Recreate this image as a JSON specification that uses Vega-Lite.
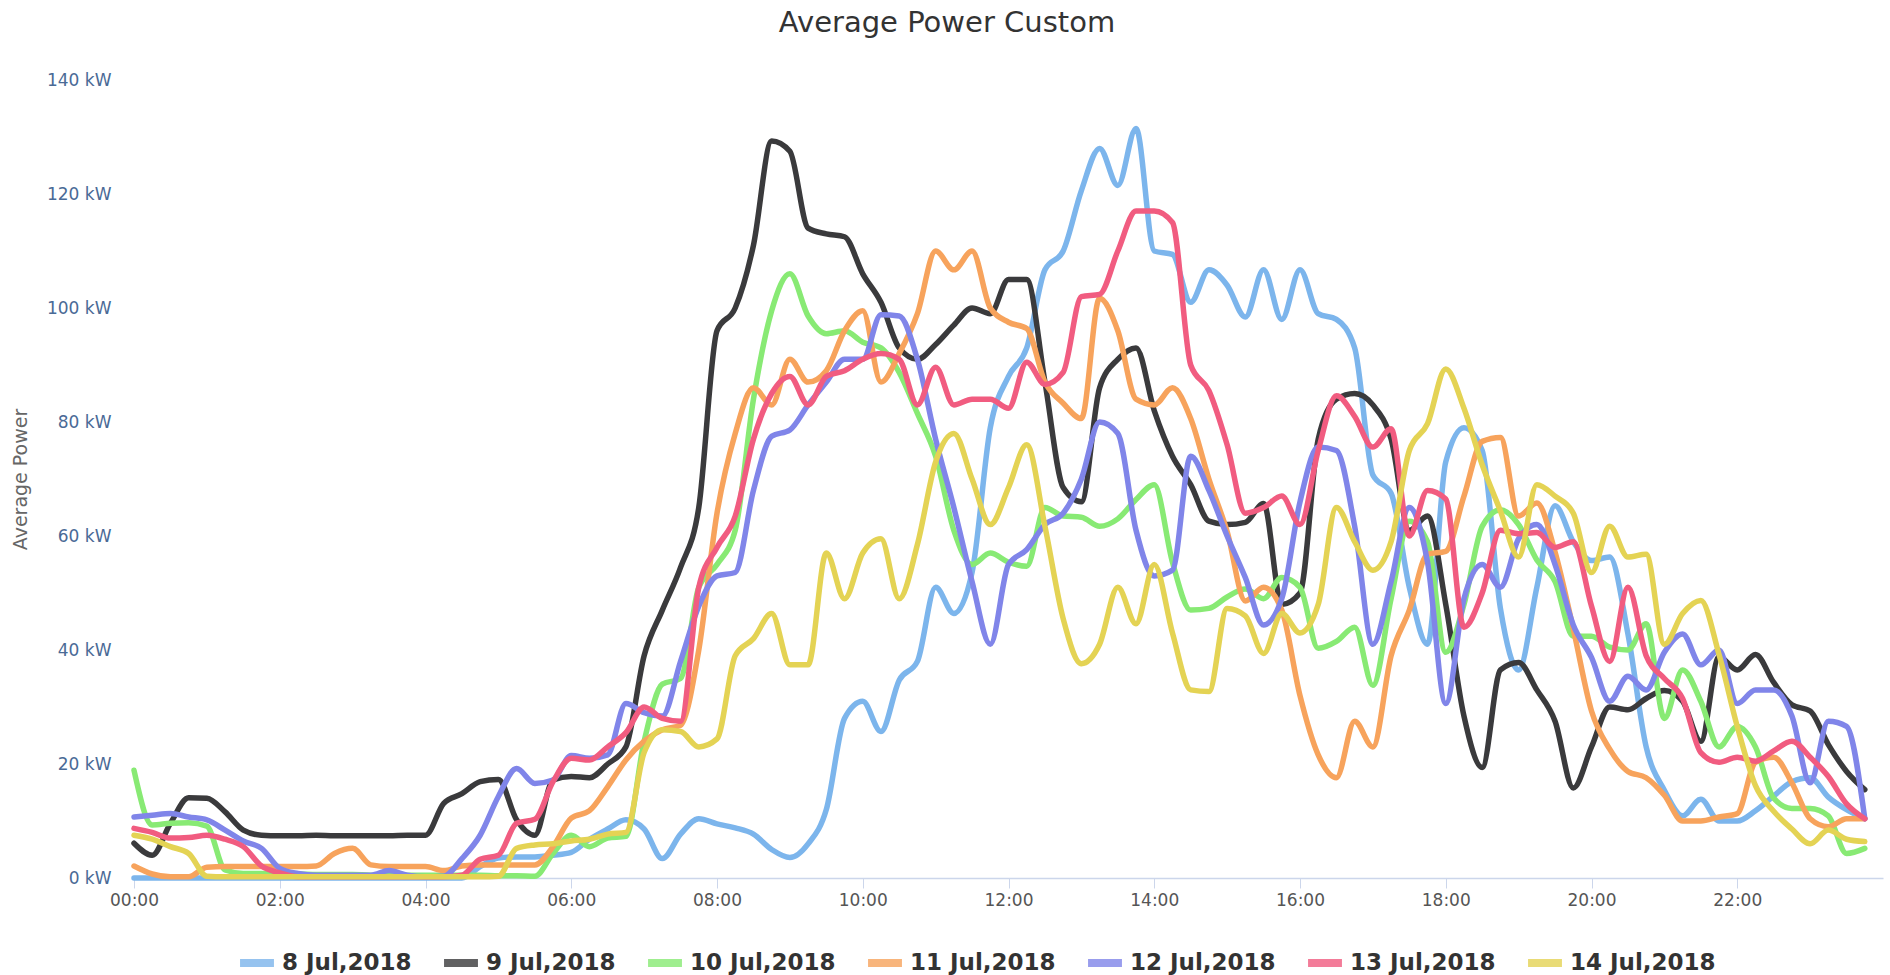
{
"$schema": "https://vega.github.io/schema/vega-lite/v6.json",
"autosize": {"type": "none"},
"width": 1749,
"height": 798,
"padding": {"left": 134, "top": 80, "right": 7, "bottom": 97},
"background": "#ffffff",
"title": {"text": "Average Power Custom", "font": "DejaVu Sans", "fontSize": 29, "fontWeight": "normal", "color": "#333333", "anchor": "middle", "frame": "bounds", "offset": 33},
"data": {
"format": {"parse": {"t": "utc:'%H:%M'"}},
"values": [
{"t":"00:00","8 Jul,2018":0,"9 Jul,2018":6.1,"10 Jul,2018":18.9,"11 Jul,2018":2.1,"12 Jul,2018":10.7,"13 Jul,2018":8.7,"14 Jul,2018":7.5},
{"t":"00:15","8 Jul,2018":0,"9 Jul,2018":4,"10 Jul,2018":9.3,"11 Jul,2018":0.7,"12 Jul,2018":11,"13 Jul,2018":8,"14 Jul,2018":6.8},
{"t":"00:30","8 Jul,2018":0,"9 Jul,2018":9.6,"10 Jul,2018":9.6,"11 Jul,2018":0.2,"12 Jul,2018":11.3,"13 Jul,2018":7,"14 Jul,2018":5.5},
{"t":"00:45","8 Jul,2018":0,"9 Jul,2018":14.1,"10 Jul,2018":9.7,"11 Jul,2018":0.2,"12 Jul,2018":10.7,"13 Jul,2018":7.1,"14 Jul,2018":4.3},
{"t":"01:00","8 Jul,2018":0,"9 Jul,2018":14,"10 Jul,2018":9.1,"11 Jul,2018":1.9,"12 Jul,2018":10.2,"13 Jul,2018":7.5,"14 Jul,2018":0.3},
{"t":"01:15","8 Jul,2018":0,"9 Jul,2018":11.6,"10 Jul,2018":1.4,"11 Jul,2018":2,"12 Jul,2018":8.4,"13 Jul,2018":6.8,"14 Jul,2018":0.2},
{"t":"01:30","8 Jul,2018":0,"9 Jul,2018":8.4,"10 Jul,2018":0.8,"11 Jul,2018":2,"12 Jul,2018":6.5,"13 Jul,2018":5.5,"14 Jul,2018":0.2},
{"t":"01:45","8 Jul,2018":0,"9 Jul,2018":7.5,"10 Jul,2018":0.8,"11 Jul,2018":2,"12 Jul,2018":5.2,"13 Jul,2018":2.1,"14 Jul,2018":0.2},
{"t":"02:00","8 Jul,2018":0,"9 Jul,2018":7.4,"10 Jul,2018":0.7,"11 Jul,2018":2,"12 Jul,2018":1.7,"13 Jul,2018":0.9,"14 Jul,2018":0.2},
{"t":"02:15","8 Jul,2018":0,"9 Jul,2018":7.4,"10 Jul,2018":0.7,"11 Jul,2018":2,"12 Jul,2018":0.8,"13 Jul,2018":0.2,"14 Jul,2018":0.2},
{"t":"02:30","8 Jul,2018":0,"9 Jul,2018":7.5,"10 Jul,2018":0.6,"11 Jul,2018":2.1,"12 Jul,2018":0.5,"13 Jul,2018":0.2,"14 Jul,2018":0.2},
{"t":"02:45","8 Jul,2018":0,"9 Jul,2018":7.4,"10 Jul,2018":0.6,"11 Jul,2018":4.3,"12 Jul,2018":0.5,"13 Jul,2018":0.2,"14 Jul,2018":0.2},
{"t":"03:00","8 Jul,2018":0,"9 Jul,2018":7.4,"10 Jul,2018":0.6,"11 Jul,2018":5.2,"12 Jul,2018":0.5,"13 Jul,2018":0.2,"14 Jul,2018":0.2},
{"t":"03:15","8 Jul,2018":0,"9 Jul,2018":7.4,"10 Jul,2018":0.5,"11 Jul,2018":2.3,"12 Jul,2018":0.5,"13 Jul,2018":0.2,"14 Jul,2018":0.2},
{"t":"03:30","8 Jul,2018":0,"9 Jul,2018":7.4,"10 Jul,2018":0.5,"11 Jul,2018":2,"12 Jul,2018":1.3,"13 Jul,2018":0.2,"14 Jul,2018":0.2},
{"t":"03:45","8 Jul,2018":0,"9 Jul,2018":7.5,"10 Jul,2018":0.5,"11 Jul,2018":2,"12 Jul,2018":0.5,"13 Jul,2018":0.2,"14 Jul,2018":0.2},
{"t":"04:00","8 Jul,2018":0,"9 Jul,2018":7.5,"10 Jul,2018":0.5,"11 Jul,2018":2,"12 Jul,2018":0.2,"13 Jul,2018":0.2,"14 Jul,2018":0.2},
{"t":"04:15","8 Jul,2018":0,"9 Jul,2018":13.1,"10 Jul,2018":0.5,"11 Jul,2018":1.3,"12 Jul,2018":0.3,"13 Jul,2018":0.2,"14 Jul,2018":0.2},
{"t":"04:30","8 Jul,2018":0,"9 Jul,2018":14.8,"10 Jul,2018":0.5,"11 Jul,2018":2.1,"12 Jul,2018":3.4,"13 Jul,2018":0.5,"14 Jul,2018":0.2},
{"t":"04:45","8 Jul,2018":2,"9 Jul,2018":16.9,"10 Jul,2018":0.5,"11 Jul,2018":2.3,"12 Jul,2018":7.5,"13 Jul,2018":3.3,"14 Jul,2018":0.2},
{"t":"05:00","8 Jul,2018":3.5,"9 Jul,2018":17.3,"10 Jul,2018":0.4,"11 Jul,2018":2.3,"12 Jul,2018":14.3,"13 Jul,2018":4,"14 Jul,2018":0.3},
{"t":"05:15","8 Jul,2018":3.7,"9 Jul,2018":10.2,"10 Jul,2018":0.4,"11 Jul,2018":2.3,"12 Jul,2018":19.2,"13 Jul,2018":9.6,"14 Jul,2018":5.2},
{"t":"05:30","8 Jul,2018":3.7,"9 Jul,2018":7.5,"10 Jul,2018":0.3,"11 Jul,2018":2.3,"12 Jul,2018":16.6,"13 Jul,2018":10.3,"14 Jul,2018":5.8},
{"t":"05:45","8 Jul,2018":4,"9 Jul,2018":17.2,"10 Jul,2018":4.3,"11 Jul,2018":5.5,"12 Jul,2018":17.2,"13 Jul,2018":16.9,"14 Jul,2018":6},
{"t":"06:00","8 Jul,2018":4.5,"9 Jul,2018":17.8,"10 Jul,2018":7.5,"11 Jul,2018":10.5,"12 Jul,2018":21.5,"13 Jul,2018":21,"14 Jul,2018":6.5},
{"t":"06:15","8 Jul,2018":6.8,"9 Jul,2018":17.6,"10 Jul,2018":5.5,"11 Jul,2018":11.8,"12 Jul,2018":21,"13 Jul,2018":20.7,"14 Jul,2018":6.8},
{"t":"06:30","8 Jul,2018":8.6,"9 Jul,2018":20,"10 Jul,2018":7,"11 Jul,2018":16,"12 Jul,2018":21.6,"13 Jul,2018":23,"14 Jul,2018":7.7},
{"t":"06:45","8 Jul,2018":10.2,"9 Jul,2018":23,"10 Jul,2018":7.3,"11 Jul,2018":20.7,"12 Jul,2018":30.6,"13 Jul,2018":25.5,"14 Jul,2018":8},
{"t":"07:00","8 Jul,2018":8.6,"9 Jul,2018":39,"10 Jul,2018":24,"11 Jul,2018":24,"12 Jul,2018":29,"13 Jul,2018":30,"14 Jul,2018":22},
{"t":"07:15","8 Jul,2018":3.4,"9 Jul,2018":47,"10 Jul,2018":34,"11 Jul,2018":26,"12 Jul,2018":28.4,"13 Jul,2018":28,"14 Jul,2018":26},
{"t":"07:30","8 Jul,2018":7.7,"9 Jul,2018":54.5,"10 Jul,2018":35,"11 Jul,2018":26.8,"12 Jul,2018":38,"13 Jul,2018":27.5,"14 Jul,2018":25.7},
{"t":"07:45","8 Jul,2018":10.4,"9 Jul,2018":65,"10 Jul,2018":51,"11 Jul,2018":40,"12 Jul,2018":47.7,"13 Jul,2018":51,"14 Jul,2018":23},
{"t":"08:00","8 Jul,2018":9.5,"9 Jul,2018":96,"10 Jul,2018":55,"11 Jul,2018":64,"12 Jul,2018":53,"13 Jul,2018":58,"14 Jul,2018":24.4},
{"t":"08:15","8 Jul,2018":8.8,"9 Jul,2018":100,"10 Jul,2018":61,"11 Jul,2018":78,"12 Jul,2018":53.6,"13 Jul,2018":63.5,"14 Jul,2018":39},
{"t":"08:30","8 Jul,2018":7.7,"9 Jul,2018":111,"10 Jul,2018":84,"11 Jul,2018":86,"12 Jul,2018":68,"13 Jul,2018":77,"14 Jul,2018":42},
{"t":"08:45","8 Jul,2018":5,"9 Jul,2018":129.3,"10 Jul,2018":99.5,"11 Jul,2018":83,"12 Jul,2018":77.5,"13 Jul,2018":85,"14 Jul,2018":46.4},
{"t":"09:00","8 Jul,2018":3.6,"9 Jul,2018":127.5,"10 Jul,2018":106,"11 Jul,2018":91,"12 Jul,2018":78.6,"13 Jul,2018":88,"14 Jul,2018":37.4},
{"t":"09:15","8 Jul,2018":6,"9 Jul,2018":114,"10 Jul,2018":98.6,"11 Jul,2018":87,"12 Jul,2018":83,"13 Jul,2018":83,"14 Jul,2018":37.4},
{"t":"09:30","8 Jul,2018":12,"9 Jul,2018":113,"10 Jul,2018":95.5,"11 Jul,2018":89,"12 Jul,2018":87,"13 Jul,2018":88,"14 Jul,2018":57},
{"t":"09:45","8 Jul,2018":28,"9 Jul,2018":112.5,"10 Jul,2018":96,"11 Jul,2018":96,"12 Jul,2018":91,"13 Jul,2018":89,"14 Jul,2018":49},
{"t":"10:00","8 Jul,2018":31,"9 Jul,2018":106,"10 Jul,2018":94,"11 Jul,2018":99.5,"12 Jul,2018":91,"13 Jul,2018":91,"14 Jul,2018":57},
{"t":"10:15","8 Jul,2018":25.7,"9 Jul,2018":101,"10 Jul,2018":93,"11 Jul,2018":87,"12 Jul,2018":98.8,"13 Jul,2018":92,"14 Jul,2018":59.5},
{"t":"10:30","8 Jul,2018":34.7,"9 Jul,2018":93,"10 Jul,2018":88.7,"11 Jul,2018":92,"12 Jul,2018":98.6,"13 Jul,2018":91,"14 Jul,2018":49},
{"t":"10:45","8 Jul,2018":38,"9 Jul,2018":91,"10 Jul,2018":81.5,"11 Jul,2018":99,"12 Jul,2018":91,"13 Jul,2018":83,"14 Jul,2018":58.5},
{"t":"11:00","8 Jul,2018":51,"9 Jul,2018":93.6,"10 Jul,2018":74,"11 Jul,2018":110,"12 Jul,2018":77,"13 Jul,2018":89.6,"14 Jul,2018":73},
{"t":"11:15","8 Jul,2018":46.4,"9 Jul,2018":97,"10 Jul,2018":61,"11 Jul,2018":106.7,"12 Jul,2018":65,"13 Jul,2018":83,"14 Jul,2018":78},
{"t":"11:30","8 Jul,2018":53.6,"9 Jul,2018":100,"10 Jul,2018":55,"11 Jul,2018":110,"12 Jul,2018":52,"13 Jul,2018":84,"14 Jul,2018":70},
{"t":"11:45","8 Jul,2018":79,"9 Jul,2018":99,"10 Jul,2018":57,"11 Jul,2018":100,"12 Jul,2018":41,"13 Jul,2018":84,"14 Jul,2018":62},
{"t":"12:00","8 Jul,2018":88,"9 Jul,2018":105,"10 Jul,2018":55.4,"11 Jul,2018":97.5,"12 Jul,2018":55,"13 Jul,2018":82.4,"14 Jul,2018":68.5},
{"t":"12:15","8 Jul,2018":93,"9 Jul,2018":105,"10 Jul,2018":54.7,"11 Jul,2018":96.4,"12 Jul,2018":57.6,"13 Jul,2018":90.5,"14 Jul,2018":76},
{"t":"12:30","8 Jul,2018":106.7,"9 Jul,2018":87,"10 Jul,2018":65,"11 Jul,2018":87,"12 Jul,2018":62,"13 Jul,2018":86.6,"14 Jul,2018":61.7},
{"t":"12:45","8 Jul,2018":110,"9 Jul,2018":68.5,"10 Jul,2018":63.5,"11 Jul,2018":83.3,"12 Jul,2018":64,"13 Jul,2018":88.7,"14 Jul,2018":45.5},
{"t":"13:00","8 Jul,2018":120.6,"9 Jul,2018":66,"10 Jul,2018":63.3,"11 Jul,2018":80.6,"12 Jul,2018":70,"13 Jul,2018":102,"14 Jul,2018":37.6},
{"t":"13:15","8 Jul,2018":128,"9 Jul,2018":86,"10 Jul,2018":61.7,"11 Jul,2018":101.7,"12 Jul,2018":80,"13 Jul,2018":102.4,"14 Jul,2018":41},
{"t":"13:30","8 Jul,2018":121.5,"9 Jul,2018":91,"10 Jul,2018":63,"11 Jul,2018":96,"12 Jul,2018":78,"13 Jul,2018":110,"14 Jul,2018":51},
{"t":"13:45","8 Jul,2018":131.5,"9 Jul,2018":93,"10 Jul,2018":66.4,"11 Jul,2018":84,"12 Jul,2018":61,"13 Jul,2018":117,"14 Jul,2018":44.6},
{"t":"14:00","8 Jul,2018":110,"9 Jul,2018":82,"10 Jul,2018":69,"11 Jul,2018":83,"12 Jul,2018":53,"13 Jul,2018":117,"14 Jul,2018":55},
{"t":"14:15","8 Jul,2018":109.4,"9 Jul,2018":74,"10 Jul,2018":55.4,"11 Jul,2018":86,"12 Jul,2018":54,"13 Jul,2018":115,"14 Jul,2018":43},
{"t":"14:30","8 Jul,2018":101,"9 Jul,2018":69,"10 Jul,2018":47,"11 Jul,2018":80.6,"12 Jul,2018":74,"13 Jul,2018":90,"14 Jul,2018":33},
{"t":"14:45","8 Jul,2018":106.7,"9 Jul,2018":62.6,"10 Jul,2018":47.3,"11 Jul,2018":70,"12 Jul,2018":68,"13 Jul,2018":85.5,"14 Jul,2018":32.7},
{"t":"15:00","8 Jul,2018":104,"9 Jul,2018":62,"10 Jul,2018":49.3,"11 Jul,2018":60.8,"12 Jul,2018":60,"13 Jul,2018":76,"14 Jul,2018":47.3},
{"t":"15:15","8 Jul,2018":98.4,"9 Jul,2018":62.4,"10 Jul,2018":50.7,"11 Jul,2018":48.6,"12 Jul,2018":52.7,"13 Jul,2018":64,"14 Jul,2018":46},
{"t":"15:30","8 Jul,2018":106.7,"9 Jul,2018":65.7,"10 Jul,2018":49,"11 Jul,2018":51,"12 Jul,2018":44.4,"13 Jul,2018":65,"14 Jul,2018":39.4},
{"t":"15:45","8 Jul,2018":98,"9 Jul,2018":48,"10 Jul,2018":52.7,"11 Jul,2018":47,"12 Jul,2018":49,"13 Jul,2018":67,"14 Jul,2018":46.4},
{"t":"16:00","8 Jul,2018":106.7,"9 Jul,2018":50,"10 Jul,2018":51,"11 Jul,2018":32,"12 Jul,2018":66,"13 Jul,2018":62,"14 Jul,2018":43},
{"t":"16:15","8 Jul,2018":99,"9 Jul,2018":77,"10 Jul,2018":40.3,"11 Jul,2018":21.6,"12 Jul,2018":75.6,"13 Jul,2018":75,"14 Jul,2018":48},
{"t":"16:30","8 Jul,2018":98,"9 Jul,2018":84,"10 Jul,2018":41.5,"11 Jul,2018":17.6,"12 Jul,2018":75,"13 Jul,2018":84.6,"14 Jul,2018":65},
{"t":"16:45","8 Jul,2018":93,"9 Jul,2018":85,"10 Jul,2018":44,"11 Jul,2018":27.5,"12 Jul,2018":61.7,"13 Jul,2018":81,"14 Jul,2018":59},
{"t":"17:00","8 Jul,2018":70.7,"9 Jul,2018":83,"10 Jul,2018":33.8,"11 Jul,2018":23,"12 Jul,2018":41,"13 Jul,2018":75.6,"14 Jul,2018":54},
{"t":"17:15","8 Jul,2018":67.5,"9 Jul,2018":77,"10 Jul,2018":49,"11 Jul,2018":39,"12 Jul,2018":52,"13 Jul,2018":78.8,"14 Jul,2018":59},
{"t":"17:30","8 Jul,2018":51,"9 Jul,2018":61,"10 Jul,2018":62.6,"11 Jul,2018":47,"12 Jul,2018":65,"13 Jul,2018":60,"14 Jul,2018":75},
{"t":"17:45","8 Jul,2018":41,"9 Jul,2018":63.5,"10 Jul,2018":59,"11 Jul,2018":56.8,"12 Jul,2018":55.4,"13 Jul,2018":68,"14 Jul,2018":79.7},
{"t":"18:00","8 Jul,2018":73,"9 Jul,2018":48,"10 Jul,2018":39.6,"11 Jul,2018":57.3,"12 Jul,2018":30.6,"13 Jul,2018":66.5,"14 Jul,2018":89.3},
{"t":"18:15","8 Jul,2018":79,"9 Jul,2018":28.4,"10 Jul,2018":48,"11 Jul,2018":67,"12 Jul,2018":49,"13 Jul,2018":44,"14 Jul,2018":82.4},
{"t":"18:30","8 Jul,2018":75,"9 Jul,2018":19.4,"10 Jul,2018":61.7,"11 Jul,2018":76.6,"12 Jul,2018":55,"13 Jul,2018":50,"14 Jul,2018":72.5},
{"t":"18:45","8 Jul,2018":47.3,"9 Jul,2018":36.5,"10 Jul,2018":64.6,"11 Jul,2018":77.3,"12 Jul,2018":51,"13 Jul,2018":61,"14 Jul,2018":64.4},
{"t":"19:00","8 Jul,2018":36.5,"9 Jul,2018":37.8,"10 Jul,2018":62,"11 Jul,2018":63.5,"12 Jul,2018":59.5,"13 Jul,2018":60.4,"14 Jul,2018":56.3},
{"t":"19:15","8 Jul,2018":51,"9 Jul,2018":33,"10 Jul,2018":55.8,"11 Jul,2018":65.8,"12 Jul,2018":62,"13 Jul,2018":60.6,"14 Jul,2018":69},
{"t":"19:30","8 Jul,2018":65.3,"9 Jul,2018":27.5,"10 Jul,2018":52,"11 Jul,2018":57.2,"12 Jul,2018":55,"13 Jul,2018":58,"14 Jul,2018":67},
{"t":"19:45","8 Jul,2018":59,"9 Jul,2018":15.8,"10 Jul,2018":42.4,"11 Jul,2018":43.7,"12 Jul,2018":44.4,"13 Jul,2018":59,"14 Jul,2018":64},
{"t":"20:00","8 Jul,2018":55.7,"9 Jul,2018":23,"10 Jul,2018":42.4,"11 Jul,2018":29.3,"12 Jul,2018":38.7,"13 Jul,2018":47.7,"14 Jul,2018":53.6},
{"t":"20:15","8 Jul,2018":56.3,"9 Jul,2018":30,"10 Jul,2018":40.5,"11 Jul,2018":22.6,"12 Jul,2018":31,"13 Jul,2018":38,"14 Jul,2018":61.7},
{"t":"20:30","8 Jul,2018":42.8,"9 Jul,2018":29.5,"10 Jul,2018":40,"11 Jul,2018":18.7,"12 Jul,2018":35.4,"13 Jul,2018":51,"14 Jul,2018":56.3},
{"t":"20:45","8 Jul,2018":23,"9 Jul,2018":31.5,"10 Jul,2018":44.6,"11 Jul,2018":17.6,"12 Jul,2018":33,"13 Jul,2018":39,"14 Jul,2018":56.8},
{"t":"21:00","8 Jul,2018":15.4,"9 Jul,2018":32.9,"10 Jul,2018":28,"11 Jul,2018":14.5,"12 Jul,2018":39.6,"13 Jul,2018":35,"14 Jul,2018":41},
{"t":"21:15","8 Jul,2018":10.9,"9 Jul,2018":31,"10 Jul,2018":36.5,"11 Jul,2018":10,"12 Jul,2018":42.8,"13 Jul,2018":31.5,"14 Jul,2018":46.4},
{"t":"21:30","8 Jul,2018":13.8,"9 Jul,2018":24,"10 Jul,2018":31,"11 Jul,2018":10,"12 Jul,2018":37.4,"13 Jul,2018":22,"14 Jul,2018":48.7},
{"t":"21:45","8 Jul,2018":10,"9 Jul,2018":38.8,"10 Jul,2018":23,"11 Jul,2018":10.7,"12 Jul,2018":40,"13 Jul,2018":20.3,"14 Jul,2018":39.2},
{"t":"22:00","8 Jul,2018":10,"9 Jul,2018":36.5,"10 Jul,2018":26.6,"11 Jul,2018":11.3,"12 Jul,2018":30.6,"13 Jul,2018":21.2,"14 Jul,2018":26.6},
{"t":"22:15","8 Jul,2018":11.8,"9 Jul,2018":39.2,"10 Jul,2018":23,"11 Jul,2018":20.3,"12 Jul,2018":33,"13 Jul,2018":20.5,"14 Jul,2018":16.2},
{"t":"22:30","8 Jul,2018":14.4,"9 Jul,2018":34.3,"10 Jul,2018":14,"11 Jul,2018":21.2,"12 Jul,2018":33,"13 Jul,2018":22.3,"14 Jul,2018":11.7},
{"t":"22:45","8 Jul,2018":16.9,"9 Jul,2018":30.4,"10 Jul,2018":12.2,"11 Jul,2018":16.7,"12 Jul,2018":28.4,"13 Jul,2018":24,"14 Jul,2018":8.6},
{"t":"23:00","8 Jul,2018":17.6,"9 Jul,2018":29.3,"10 Jul,2018":12.2,"11 Jul,2018":10.4,"12 Jul,2018":16.7,"13 Jul,2018":21.2,"14 Jul,2018":6},
{"t":"23:15","8 Jul,2018":14.2,"9 Jul,2018":23.4,"10 Jul,2018":10.9,"11 Jul,2018":9,"12 Jul,2018":27.5,"13 Jul,2018":17.8,"14 Jul,2018":8.4},
{"t":"23:30","8 Jul,2018":12,"9 Jul,2018":18.7,"10 Jul,2018":4.3,"11 Jul,2018":10.4,"12 Jul,2018":26.6,"13 Jul,2018":13,"14 Jul,2018":6.8},
{"t":"23:45","8 Jul,2018":10.4,"9 Jul,2018":15.5,"10 Jul,2018":5.2,"11 Jul,2018":10.4,"12 Jul,2018":10.4,"13 Jul,2018":10.4,"14 Jul,2018":6.4}
]
},
"transform": [
{"fold": ["8 Jul,2018","9 Jul,2018","10 Jul,2018","11 Jul,2018","12 Jul,2018","13 Jul,2018","14 Jul,2018"], "as": ["day","power"]}
],
"mark": {"type": "line", "interpolate": "monotone", "strokeWidth": 5.5, "strokeCap": "round", "strokeJoin": "round"},
"encoding": {
"x": {
"field": "t", "type": "temporal",
"scale": {"type": "utc", "domain": [{"year": 1900, "month": 1, "date": 1, "hours": 0, "utc": true}, {"year": 1900, "month": 1, "date": 2, "hours": 0, "utc": true}]},
"axis": {
"title": null, "format": "%H:%M", "grid": false,
"values": [
{"year": 1900, "month": 1, "date": 1, "hours": 0, "utc": true},
{"year": 1900, "month": 1, "date": 1, "hours": 2, "utc": true},
{"year": 1900, "month": 1, "date": 1, "hours": 4, "utc": true},
{"year": 1900, "month": 1, "date": 1, "hours": 6, "utc": true},
{"year": 1900, "month": 1, "date": 1, "hours": 8, "utc": true},
{"year": 1900, "month": 1, "date": 1, "hours": 10, "utc": true},
{"year": 1900, "month": 1, "date": 1, "hours": 12, "utc": true},
{"year": 1900, "month": 1, "date": 1, "hours": 14, "utc": true},
{"year": 1900, "month": 1, "date": 1, "hours": 16, "utc": true},
{"year": 1900, "month": 1, "date": 1, "hours": 18, "utc": true},
{"year": 1900, "month": 1, "date": 1, "hours": 20, "utc": true},
{"year": 1900, "month": 1, "date": 1, "hours": 22, "utc": true}
],
"domainColor": "#ccd6eb", "domainWidth": 1.5, "tickColor": "#ccd6eb", "tickSize": 10, "tickWidth": 1,
"labelFont": "DejaVu Sans", "labelFontSize": 17, "labelColor": "#555555", "labelPadding": 4, "labelFlush": false, "labelOverlap": false
}
},
"y": {
"field": "power", "type": "quantitative",
"scale": {"domain": [0, 140], "nice": false, "zero": true},
"axis": {
"title": "Average Power", "values": [0, 20, 40, 60, 80, 100, 120, 140],
"labelExpr": "datum.value + ' kW'", "grid": false, "domain": false, "ticks": false,
"labelPadding": 23, "labelFont": "DejaVu Sans", "labelFontSize": 17, "labelColor": "#4a6a96",
"titleFont": "DejaVu Sans", "titleFontSize": 19, "titleFontWeight": "normal", "titleColor": "#666666",
"titleAngle": -90, "titleX": -114, "titleY": 399, "titleAlign": "center", "titleBaseline": "middle"
}
},
"color": {
"field": "day", "type": "nominal",
"scale": {
"domain": ["8 Jul,2018","9 Jul,2018","10 Jul,2018","11 Jul,2018","12 Jul,2018","13 Jul,2018","14 Jul,2018"],
"range": ["#7cb5ec","#3a3a3c","#88ea74","#f7a35c","#8085e9","#f15c80","#e4d354"]
},
"legend": {
"title": null, "orient": "none", "legendX": 102, "legendY": 862, "direction": "horizontal",
"symbolType": "stroke", "symbolSize": 1150, "symbolStrokeWidth": 8, "symbolOpacity": 0.8,
"labelFont": "DejaVu Sans", "labelFontSize": 23, "labelFontWeight": "bold", "labelColor": "#333333",
"labelOffset": 4, "columnPadding": 16, "padding": 0, "labelLimit": 400
}
}
},
"config": {"view": {"stroke": null}}
}
